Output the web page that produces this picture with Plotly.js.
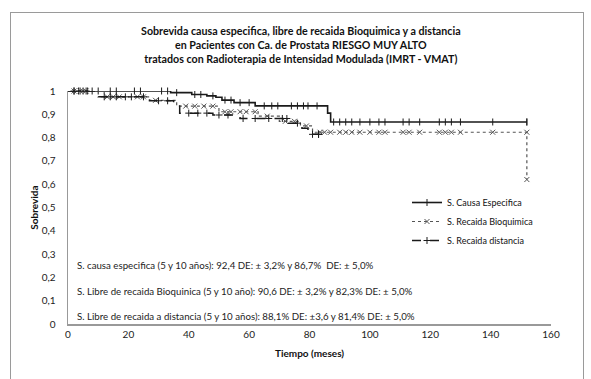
<!DOCTYPE html>
<html><head><meta charset="utf-8">
<script src="https://cdn.plot.ly/plotly-3.0.1.min.js"></script>
<style>
html,body{margin:0;padding:0;background:#fff;}
#wrap{position:relative;width:591px;height:379px;}
#chart{position:absolute;left:0;top:0;width:591px;height:379px;}
#frame{position:absolute;left:10px;top:12px;width:572px;height:375px;border:1px solid #9a9a9a;pointer-events:none;}
</style></head>
<body><div id="wrap"><div id="chart"></div><div id="frame"></div></div>
<script>
// Survival curves (months, survival proportion)
const causaT = [0, 34, 41, 46, 49, 51, 55, 62, 86, 87, 152];
const causaS = [1, 0.993, 0.985, 0.979, 0.973, 0.961, 0.950, 0.936, 0.905, 0.867, 0.867];
const causaCens = [2, 3.5, 5, 6.5, 8, 10, 14, 16, 22, 24, 31, 33, 36, 42, 44, 48, 52, 54, 57, 60, 65, 67.5, 69.5, 74, 76, 78, 79.5, 82.5, 88, 90, 92, 94, 96.7, 100, 103, 105, 111, 113, 116.5, 123, 125, 127, 130, 140.7, 152];

const bioT = [0, 12, 27, 36, 50, 63, 70, 77, 81, 152];
const bioS = [1, 0.975, 0.96, 0.935, 0.911, 0.892, 0.87, 0.85, 0.823, 0.62];
const bioCens = [2, 4, 6, 13, 15, 17, 23, 25, 29, 39, 42, 45, 48, 52, 54, 57, 59, 62, 66, 72, 75, 79, 83.5, 85, 87, 90, 92, 94, 96.7, 100, 103, 105, 111, 113, 116.5, 123, 125, 127, 130, 140.7, 152];

const distT = [0, 10, 27, 35, 37, 48, 57, 73, 77.5, 79.5, 83];
const distS = [1, 0.975, 0.958, 0.94, 0.905, 0.897, 0.882, 0.862, 0.84, 0.814, 0.814];
const distCens = [2, 4, 6, 12, 14, 16, 19, 21, 25, 30, 33, 40, 43, 46, 50, 53, 58, 62, 66.5, 71, 72.5, 76, 81, 83];

const seriesNames = ['S. Causa Especifica', 'S. Recaida Bioquimica', 'S. Recaida distancia'];
const xTicks = [0, 20, 40, 60, 80, 100, 120, 140, 160];
const yTicks = [0, 0.1, 0.2, 0.3, 0.4, 0.5, 0.6, 0.7, 0.8, 0.9, 1];
const yTickText = ['0', '0,1', '0,2', '0,3', '0,4', '0,5', '0,6', '0,7', '0,8', '0,9', '1'];
const notes = [
  'S. causa especifica (5 y 10 años): 92,4 DE: ± 3,2% y 86,7%  DE: ± 5,0%',
  'S. Libre de recaida Bioquinica (5 y 10 año): 90,6 DE: ± 3,2% y 82,3% DE: ± 5,0%',
  'S. Libre de recaida a distancia (5 y 10 años): 88,1% DE: ±3,6 y 81,4% DE: ± 5,0%'
];

// survival just before time t (left limit)
function survAt(T, S, t){ let v = S[0]; for(let i=0;i<T.length;i++){ if(T[i] < t) v = S[i]; } return v; }

const FONT = 'Lato, "Open Sans", sans-serif';
const styles = [
  {dash:'solid', width:1.6, sym:'line-ns-open', msize:5, color:'#1a1a1a'},
  {dash:'dot', width:1.2, sym:'x-thin-open', msize:5, color:'#555'},
  {dash:'dash', width:1.5, sym:'cross-thin-open', msize:5, color:'#1a1a1a'}
];
const sets = [[causaT, causaS, causaCens], [bioT, bioS, bioCens], [distT, distS, distCens]];
const traces = [];
sets.forEach((s, k) => {
  const [T, S, C] = s; const st = styles[k];
  traces.push({x:T, y:S, type:'scatter', mode:'lines', line:{shape:'hv', color:st.color, width:st.width, dash:st.dash}, showlegend:false, hoverinfo:'skip', cliponaxis:false});
  traces.push({x:C, y:C.map(t => survAt(T, S, t)), type:'scatter', mode:'markers', marker:{symbol:st.sym, size:st.msize, color:st.color, line:{width:1, color:st.color}}, showlegend:false, cliponaxis:false});
  traces.push({x:[T[T.length-1]], y:[S[S.length-1]], type:'scatter', mode:'markers', marker:{symbol:st.sym, size:st.msize, color:st.color, line:{width:1, color:st.color}}, showlegend:false, cliponaxis:false});
  traces.push({x:[null], y:[null], type:'scatter', mode:'lines+markers', name:seriesNames[k], line:{color:st.color, width:st.width, dash:st.dash}, marker:{symbol:st.sym, size:st.msize, color:st.color, line:{width:1, color:st.color}}});
});

const L = 68, R = 40, T0 = 91, B = 55, W = 591, H = 379;
const pw = W - L - R, ph = H - T0 - B;
const annotations = notes.map((n, i) => ({
  text:n, xref:'paper', yref:'paper', x:(75 - L)/pw, y:[(H-B-265)/ph, (H-B-291)/ph, (H-B-316)/ph][i],
  xanchor:'left', yanchor:'middle', showarrow:false, font:{family:FONT, size:9.7, color:'#222'}
}));

const layout = {
  width:W, height:H, paper_bgcolor:'#fff', plot_bgcolor:'#fff',
  margin:{l:L, r:R, t:T0, b:B},
  title:{text:'<b>Sobrevida causa especifica, libre de recaida Bioquimica y a distancia<br>en Pacientes con Ca. de Prostata RIESGO MUY ALTO<br>tratados con Radioterapia de Intensidad Modulada (IMRT - VMAT)</b>',
    xref:'container', x:0.509, xanchor:'center', yref:'container', y:1-35/H, yanchor:'top', automargin:false, font:{family:FONT, size:10.7, color:'#111'}},
  font:{family:FONT, color:'#222'},
  xaxis:{range:[0,160], tickvals:xTicks, ticks:'', showgrid:false, zeroline:false, showline:true, linecolor:'#999', linewidth:1.5,
    tickfont:{family:FONT, size:10, color:'#222'}, title:{text:'<b>Tiempo (meses)</b>', font:{family:FONT, size:10, color:'#111'}, standoff:11}},
  yaxis:{range:[0,1], tickvals:yTicks, ticktext:yTickText, ticks:'', showgrid:false, zeroline:false, showline:true, linecolor:'#999', linewidth:1.5,
    ticklabelstandoff:9, tickfont:{family:FONT, size:10, color:'#222'}, title:{text:'<b>Sobrevida</b>', font:{family:FONT, size:10, color:'#111'}, standoff:1}},
  legend:{x:(407-L)/pw, y:(H-B-188)/ph, xanchor:'left', yanchor:'top', bgcolor:'rgba(0,0,0,0)', font:{family:FONT, size:9, color:'#111'}, tracegroupgap:0},
  annotations:annotations
};
Plotly.newPlot('chart', traces, layout, {displayModeBar:false, staticPlot:true});
</script></body></html>
